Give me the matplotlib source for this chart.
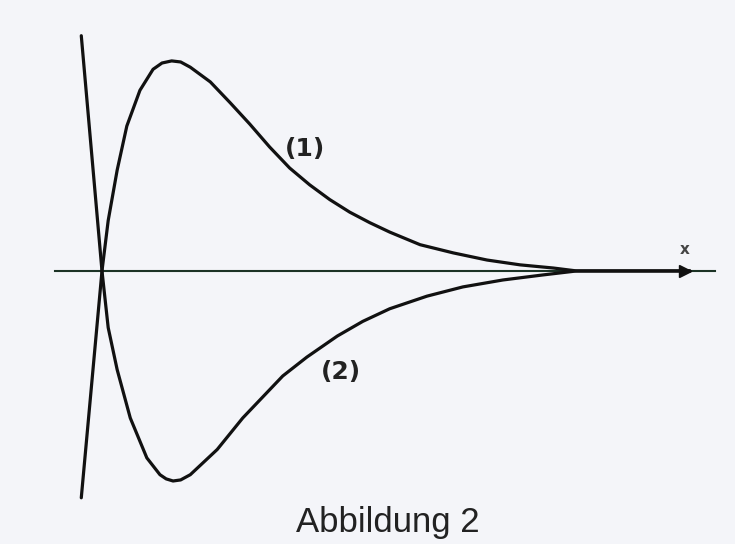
import matplotlib
matplotlib.use("Agg")
import matplotlib.pyplot as plt

# Curve (1) (x unit = crossing..peak, y unit = peak height)
x1 = [-0.30, 0.00, 0.09, 0.22, 0.36, 0.55, 0.74, 0.87, 1.01, 1.14, 1.28, 1.57,
      1.86, 2.14, 2.43, 2.72, 3.01, 3.30, 3.59, 3.88, 4.17, 4.61, 5.09,
      5.58, 6.06, 6.54, 6.88, 8.52]
y1 = [-1.08, 0.00, 0.24, 0.48, 0.69, 0.86, 0.96, 0.99, 1.00, 0.995, 0.97, 0.90,
      0.80, 0.70, 0.59, 0.49, 0.41, 0.34, 0.28, 0.23, 0.185, 0.125, 0.086,
      0.052, 0.029, 0.014, 0.0, 0.0]

# Curve (2)
x2 = [-0.30, 0.00, 0.09, 0.22, 0.41, 0.65, 0.84, 0.93, 1.03, 1.14, 1.28, 1.67,
      2.04, 2.33, 2.62, 2.97, 3.41, 3.78, 4.17, 4.71, 5.23, 5.81, 6.39, 6.88,
      8.52]
y2 = [1.12, 0.00, -0.27, -0.47, -0.70, -0.89, -0.97, -0.99, -1.00, -0.995,
      -0.97, -0.85, -0.70, -0.60, -0.50, -0.41, -0.31, -0.24, -0.18, -0.12,
      -0.076, -0.043, -0.019, 0.0, 0.0]

axis_range = [-0.68, 8.88]
labels = ["(1)", "(2)"]
label_pos = [(2.94, 0.58), (3.46, -0.48)]
axis_label = "x"
caption = "Abbildung 2"

bg = "#f4f5f9"
fig = plt.figure(figsize=(7.35, 5.44), dpi=100, facecolor=bg)
ax = fig.add_axes([0, 0, 1, 1], facecolor=bg)
ax.set_xlim(-1.478, 9.174)
ax.set_ylim(-1.30, 1.29)
ax.axis("off")

# x axis with arrow
ax.plot(axis_range, [0, 0], color="#1c3326", lw=1.5, zorder=1)
ax.plot([8.45], [0], marker=">", ms=8, color="#111111", zorder=3)

ax.plot(x1, y1, color="#111111", lw=2.3, solid_joinstyle="round",
        solid_capstyle="round", zorder=2)
ax.plot(x2, y2, color="#111111", lw=2.3, solid_joinstyle="round",
        solid_capstyle="round", zorder=2)

for t, (lx, ly) in zip(labels, label_pos):
    ax.text(lx, ly, t, ha="center", va="center", fontsize=18,
            fontweight="bold", family="DejaVu Sans", color="#222222")

ax.text(8.45, 0.10, axis_label, ha="center", va="center", fontsize=11,
        fontweight="bold", family="DejaVu Sans", color="#444444")

fig.text(0.527, 0.039, caption, ha="center", va="center", fontsize=25,
         family="Liberation Sans", color="#222222")

fig.savefig("out.png", dpi=100, facecolor=bg)
